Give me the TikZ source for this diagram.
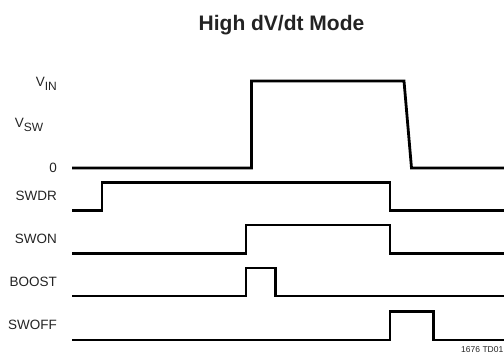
\documentclass[tikz,border=0pt]{standalone}
\usepackage{fontspec}
\setmainfont{Liberation Sans}
\usetikzlibrary{positioning}

\begin{document}
\begin{tikzpicture}[x=1pt, y=-1pt,
            wave/.style={line width=2.8pt, line join=miter, color=black},
            siglabel/.style={anchor=east, inner sep=0pt,
                    font=\fontsize{13.5}{16}\selectfont,
                    color={rgb,255:red,35;green,35;blue,35}},
            heading/.style={inner sep=0pt, font=\fontsize{21}{25}\selectfont\bfseries,
                    color={rgb,255:red,35;green,35;blue,35}},
            figtag/.style={anchor=base east, inner sep=0pt,
                    font=\fontsize{8.5}{10}\selectfont,
                    color={rgb,255:red,35;green,35;blue,35}}
        ]
        \useasboundingbox (0,0) rectangle (504,354);

        % ---------------------------------------------------------------
        % TITLE AND LABELS
        % ---------------------------------------------------------------
        \node[heading] (title) at (281.5,25) {High dV/dt Mode};

        \node[siglabel] (vin) at (57,84) {V\raisebox{-3.5pt}{\fontsize{12}{14}\selectfont IN}};
        \node[siglabel] (vsw) at (43.5,125) {V\raisebox{-3.5pt}{\fontsize{12}{14}\selectfont SW}};
        \node[siglabel] (zero) at (57,168) {0};

        \node[siglabel] (swdr) at (57,196) {SWDR};
        \node[siglabel] (swon) at (57,239) {SWON};
        \node[siglabel] (boost) at (57,282) {BOOST};
        \node[siglabel] (swoff) at (57,325) {SWOFF};

        \node[figtag] (tag) at (503.5,352) {1676 TD01};

        % ---------------------------------------------------------------
        % WAVEFORMS
        % ---------------------------------------------------------------

        % Switch node voltage
        \draw[wave] (72,168) -- (251.5,168) -- (251.5,81) -- (404,81)
            -- (411.5,168) -- (504,168);

        % SWDR
        \draw[wave] (72,210.5) -- (102,210.5) -- (102,182.5) -- (390,182.5)
            -- (390,210.5) -- (504,210.5);

        % SWON
        \draw[wave] (72,253.5) -- (246,253.5) -- (246,225) -- (390,225)
            -- (390,253.5) -- (504,253.5);

        % BOOST pulse
        \draw[wave] (72,296) -- (246,296) -- (246,268) -- (275.5,268)
            -- (275.5,296) -- (504,296);

        % SWOFF pulse
        \draw[wave] (72,340) -- (390,340) -- (390,311.5) -- (433.5,311.5)
            -- (433.5,340) -- (504,340);

    \end{tikzpicture}
\end{document}
